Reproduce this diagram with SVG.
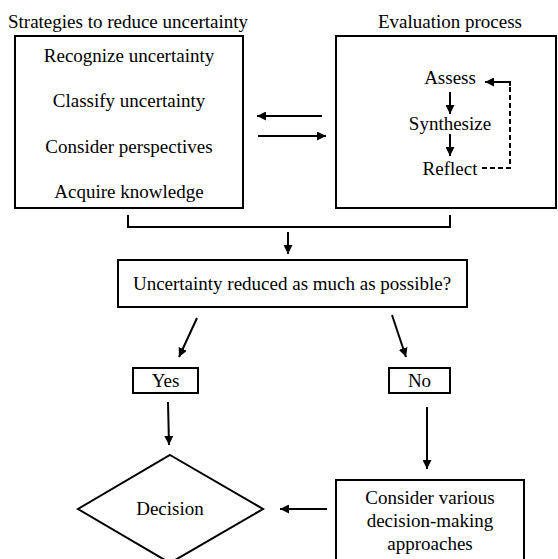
<svg xmlns="http://www.w3.org/2000/svg" width="558" height="559" viewBox="0 0 558 559">
<style>
  .box { fill: #fff; stroke: #000; stroke-width: 2; }
  .t { font-family: 'Liberation Serif', 'Times New Roman', serif; font-size: 19px; fill: #000; text-anchor: middle; }
  .c { fill: none; stroke: #000; stroke-width: 2; }
  .a { marker-end: url(#arr); }
  .d { stroke-dasharray: 5 3; }
</style>
<defs>
  <marker id="arr" viewBox="0 0 10 10" refX="10" refY="5" markerWidth="9" markerHeight="9" markerUnits="userSpaceOnUse" orient="auto">
    <path d="M0,0 L10,5 L0,10 Z" fill="#000"/>
  </marker>
</defs>
<rect width="558" height="559" fill="#fff"/>

<g id="strategies">
  <text class="t" x="128" y="28">Strategies to reduce uncertainty</text>
  <rect class="box" x="15" y="36" width="228" height="172"/>
  <text class="t" x="129" y="62">Recognize uncertainty</text>
  <text class="t" x="129" y="107">Classify uncertainty</text>
  <text class="t" x="129" y="153">Consider perspectives</text>
  <text class="t" x="129" y="198">Acquire knowledge</text>
</g>

<g id="evaluation">
  <text class="t" x="450" y="28">Evaluation process</text>
  <rect class="box" x="336" y="36" width="220" height="172"/>
  <text class="t" x="450" y="84">Assess</text>
  <text class="t" x="450" y="130">Synthesize</text>
  <text class="t" x="450" y="175">Reflect</text>
</g>

<g id="question">
  <rect class="box" x="118" y="260" width="349" height="47"/>
  <text class="t" x="292" y="290">Uncertainty reduced as much as possible?</text>
</g>

<g id="yes">
  <rect class="box" x="133" y="368" width="65" height="25"/>
  <text class="t" x="165.5" y="387">Yes</text>
</g>

<g id="no">
  <rect class="box" x="389" y="368" width="61" height="25"/>
  <text class="t" x="419.5" y="387">No</text>
</g>

<g id="decision">
  <polygon class="box" points="170,455 263,509 170,563 78,509"/>
  <text class="t" x="170" y="515">Decision</text>
</g>

<g id="approaches">
  <rect class="box" x="336" y="480" width="188" height="90"/>
  <text class="t" x="430" y="504">Consider various</text>
  <text class="t" x="430" y="527">decision-making</text>
  <text class="t" x="430" y="550">approaches</text>
</g>

<g id="connectors">
  <line class="c a" x1="322" y1="116" x2="257" y2="116"/>
  <line class="c a" x1="258" y1="136" x2="326" y2="136"/>
  <line class="c a" x1="450" y1="92" x2="450" y2="114"/>
  <line class="c a" x1="450" y1="134" x2="450" y2="156"/>
  <polyline class="c d" points="482,168 510,168 510,84"/>
  <polyline class="c a" points="510,86 510,82 485,82"/>
  <polyline class="c" points="128,215 128,227 450,227 450,215"/>
  <line class="c a" x1="288" y1="232" x2="288" y2="254"/>
  <line class="c a" x1="197" y1="318" x2="179" y2="357"/>
  <line class="c a" x1="392" y1="315" x2="406" y2="357"/>
  <line class="c a" x1="168" y1="402" x2="169" y2="445"/>
  <line class="c a" x1="427" y1="407" x2="427" y2="469"/>
  <line class="c a" x1="327" y1="509" x2="280" y2="509"/>
</g>
</svg>
